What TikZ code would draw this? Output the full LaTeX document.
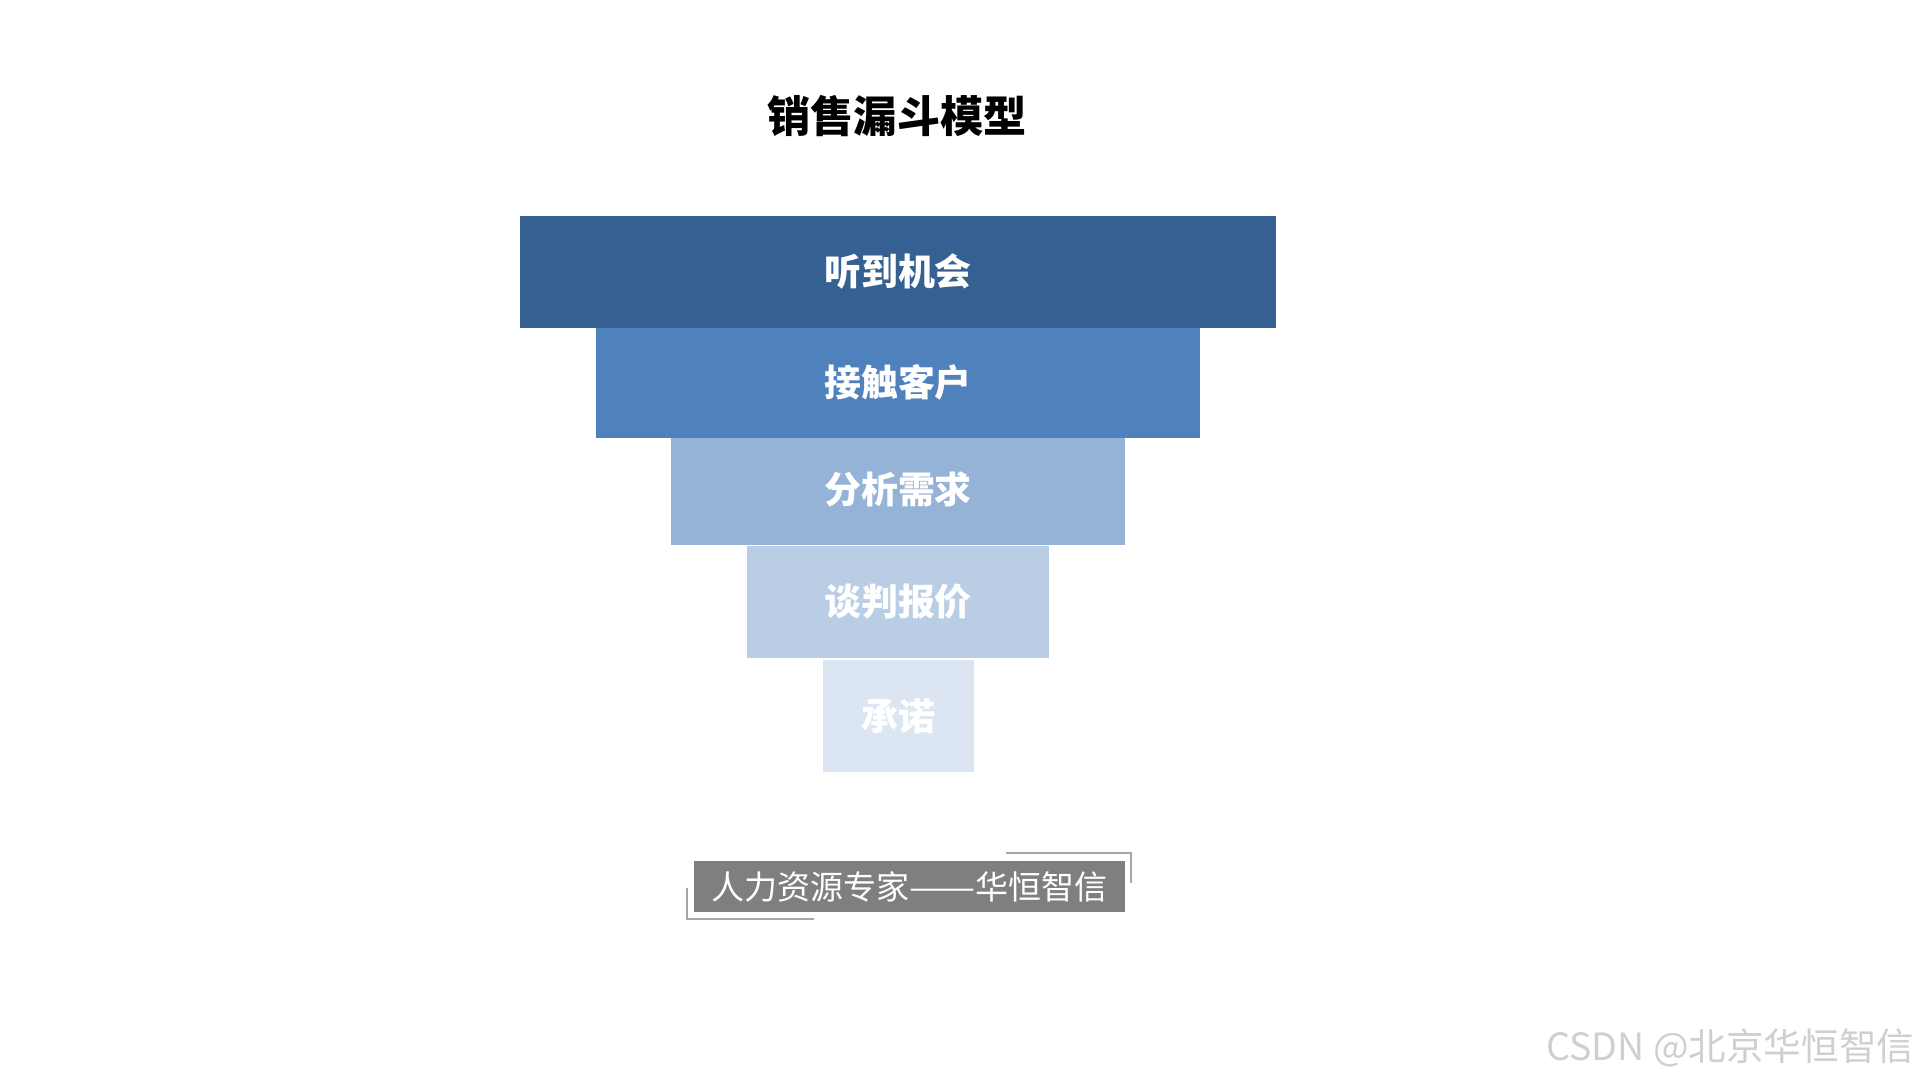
\documentclass[tikz,border=0pt]{standalone}
\usepackage{fontspec}
\setmainfont{Noto Sans CJK SC}
\usetikzlibrary{positioning}
\definecolor{lvlone}{HTML}{366092}
\definecolor{lvltwo}{HTML}{4F81BD}
\definecolor{lvlthree}{HTML}{95B3D7}
\definecolor{lvlfour}{HTML}{B9CDE5}
\definecolor{lvlfive}{HTML}{DCE6F2}
\definecolor{tagfill}{HTML}{7F7F7F}
\definecolor{tagline}{HTML}{A6A6A6}
\definecolor{wmgray}{HTML}{CFCFCF}
\newcommand{\stagefont}{\fontsize{10.5}{12}\selectfont\bfseries}
\newcommand{\longdash}{\resizebox{2em}{\height}{——}}

\begin{document}
\begin{tikzpicture}[
  stage/.style={minimum height=1.12cm,inner sep=0pt,text=white,font=\stagefont},
  bracket/.style={draw=tagline,line width=0.6pt}]
\useasboundingbox (0,0) rectangle (19.2,-10.8);
\node (title) at (8.97,-1.16) {\fontsize{12.3}{14}\selectfont\bfseries 销售漏斗模型};
% funnel, drawn from the bottom up so each bar covers the one below
\node[stage,fill=lvlfive,minimum width=1.51cm] (promise) at (8.98,-7.16) {承诺};
\node[stage,fill=lvlfour,minimum width=3.02cm] (offer) at (8.98,-6.02) {谈判报价};
\node[stage,fill=lvlthree,minimum width=4.54cm] (needs) at (8.98,-4.89) {分析需求};
\node[stage,fill=lvltwo,minimum width=6.04cm] (contact) at (8.98,-3.82) {接触客户};
\node[stage,fill=lvlone,minimum width=7.56cm] (lead) at (8.98,-2.72) {听到机会};
% tag line with its corner brackets
\node[fill=tagfill,text=white,minimum width=4.31cm,minimum height=0.51cm,inner sep=0pt,
  font=\fontsize{9.4}{11}\selectfont] (tag) at (9.095,-8.865) {人力资源专家\longdash 华恒智信};
\draw[bracket] ([shift={(-1.20,0.07)}]tag.north east) -- ([shift={(0.05,0.07)}]tag.north east)
  -- ([shift={(0.05,-0.23)}]tag.north east);
\draw[bracket] ([shift={(-0.06,0.25)}]tag.south west) -- ([shift={(-0.06,-0.06)}]tag.south west)
  -- ([shift={(1.21,-0.06)}]tag.south west);
\node[anchor=east,inner sep=0pt,text=wmgray,font=\fontsize{10.7}{12}\selectfont] (wm) at (19.15,-10.48) {CSDN @北京华恒智信};
\end{tikzpicture}
\end{document}
